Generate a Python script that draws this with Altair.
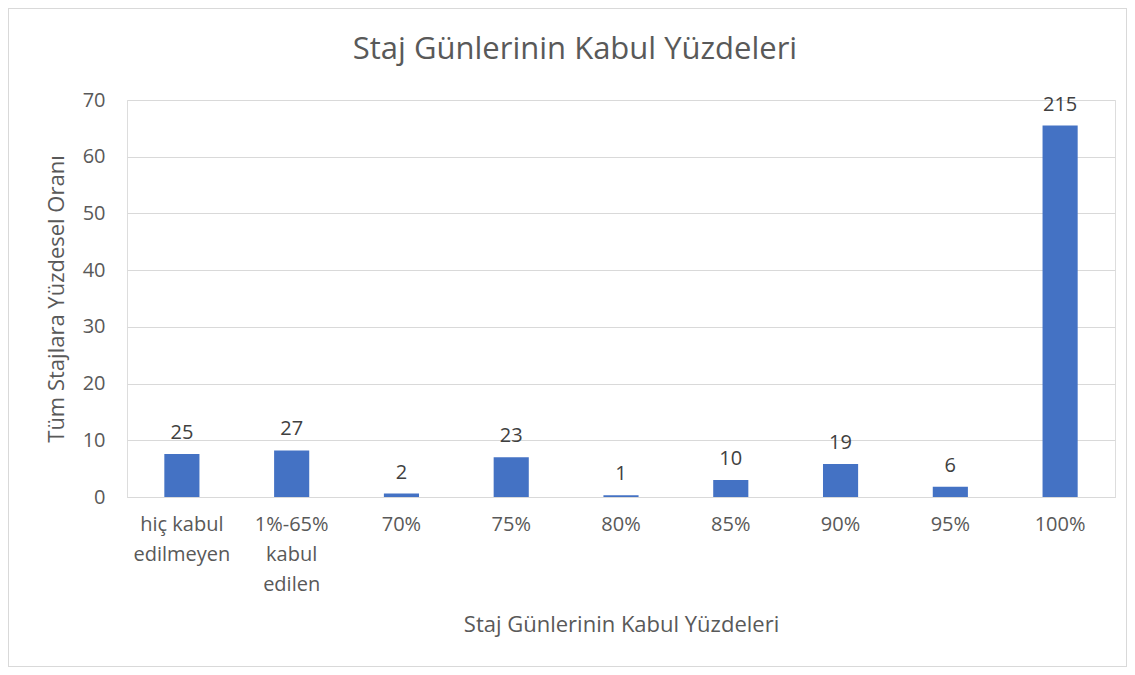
import altair as alt
import pandas as pd

categories = ["hiç kabul\nedilmeyen", "1%-65%\nkabul\nedilen", "70%", "75%", "80%", "85%", "90%", "95%", "100%"]
percent = [7.6, 8.2, 0.6, 7.0, 0.3, 3.0, 5.8, 1.8, 65.5]
counts = [25, 27, 2, 23, 1, 10, 19, 6, 215]

df = pd.DataFrame({"cat": categories, "pct": percent, "n": counts})

FONT = "Open Sans"
GRAY = "#595959"
W, H = 988, 397
PL, PT, PR, PB = 119, 92, 12, 170

x = alt.X("cat:N", sort=categories,
          scale=alt.Scale(paddingInner=0.68, paddingOuter=0.34),
          axis=alt.Axis(title="Staj Günlerinin Kabul Yüzdeleri", labelAngle=0,
                        labelExpr="split(datum.label, '\\n')", labelLineHeight=30,
                        labelFontSize=20, labelColor=GRAY, labelFont=FONT, labelPadding=17,
                        titleFontSize=22, titleColor=GRAY, titleFont=FONT, titleFontWeight="normal",
                        titlePadding=20, domainColor="#d9d9d9", ticks=False))
y = alt.Y("pct:Q", scale=alt.Scale(domain=[0, 70]),
          axis=alt.Axis(title="Tüm Stajlara Yüzdesel Oranı", values=[0, 10, 20, 30, 40, 50, 60, 70],
                        labelFontSize=20, labelColor=GRAY, labelFont=FONT, labelPadding=22,
                        titleFontSize=22, titleColor=GRAY, titleFont=FONT, titleFontWeight="normal",
                        titlePadding=14, domain=False, ticks=False, gridColor="#d9d9d9"))

bars = alt.Chart(df).mark_bar(color="#4472C4").encode(x=x, y=y)
labels = alt.Chart(df).mark_text(baseline="bottom", dy=-11, fontSize=20, font=FONT, color="#404040").encode(
    x=alt.X("cat:N", sort=categories), y="pct:Q", text="n:Q")

border = alt.Chart(df).mark_rect(filled=False, stroke="#d9d9d9", strokeWidth=1).encode(
    x=alt.value(-PL + 0.5), x2=alt.value(W + PR - 0.5),
    y=alt.value(-PT + 0.5), y2=alt.value(H + PB - 0.5))

chart = alt.layer(border, bars, labels).properties(
    width=W, height=H,
    autosize=alt.AutoSizeParams(type="none"),
    padding={"left": PL, "top": PT, "right": PR, "bottom": PB},
    title=alt.TitleParams("Staj Günlerinin Kabul Yüzdeleri", fontSize=31, color=GRAY, font=FONT,
                          fontWeight="normal", anchor="middle", dx=-46, offset=-82,
                          frame="group", baseline="alphabetic"),
).configure_view(stroke=None).configure(background="white")

chart.save("out.html", embed_options={"renderer": "svg", "actions": False})
